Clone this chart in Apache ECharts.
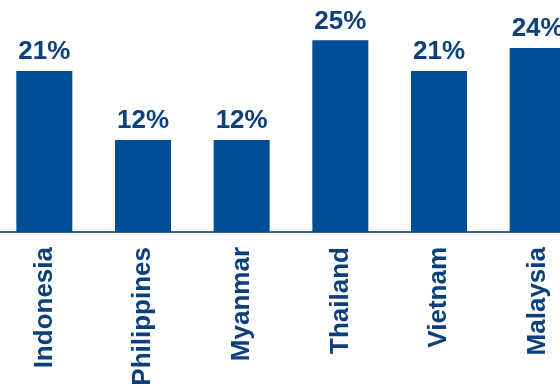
<!DOCTYPE html>
<html>
<head>
<meta charset="utf-8">
<script src="https://cdn.jsdelivr.net/npm/echarts@6/dist/echarts.min.js"></script>
<style>
  html, body { margin: 0; padding: 0; background: #ffffff; overflow: hidden; }
  #wrap { width: 560px; height: 389px; overflow: hidden; position: relative; }
  #chart { width: 592px; height: 389px; position: absolute; left: -5px; top: 0; }
</style>
</head>
<body>
<div id="wrap"><div id="chart"></div></div>
<script>
// Share by country (%)
const countries = ['Indonesia', 'Philippines', 'Myanmar', 'Thailand', 'Vietnam', 'Malaysia'];
const shares = [21, 12, 12, 25, 21, 24];

const barColor = '#004e98';
const textColor = '#0c3f7d';
const fontFamily = '"Liberation Sans", Arial, sans-serif';

const chart = echarts.init(document.getElementById('chart'), null, { renderer: 'canvas' });
chart.setOption({
  animation: false,
  grid: { left: 0, right: 0, top: 2, bottom: 157, containLabel: false },
  xAxis: {
    type: 'category',
    data: countries,
    axisLine: { show: true, lineStyle: { color: '#3a6496', width: 2 } },
    axisTick: { show: false },
    axisLabel: {
      rotate: 90,
      margin: 15,
      interval: 0,
      color: textColor,
      fontFamily: fontFamily,
      fontWeight: 'bold',
      fontSize: 26
    }
  },
  yAxis: {
    type: 'value',
    min: 0,
    max: 30,
    show: false,
    splitLine: { show: false }
  },
  series: [{
    type: 'bar',
    data: shares,
    barWidth: 56,
    itemStyle: { color: barColor },
    label: {
      show: true,
      position: 'top',
      distance: 6,
      formatter: '{c}%',
      color: textColor,
      fontFamily: fontFamily,
      fontWeight: 'bold',
      fontSize: 26
    }
  }]
});
</script>
</body>
</html>
